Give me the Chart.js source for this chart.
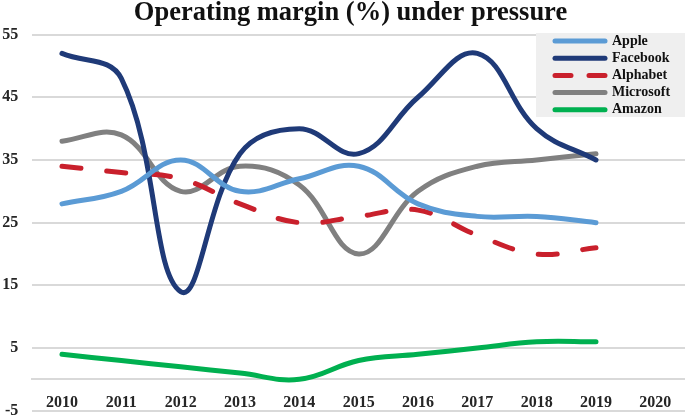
<!DOCTYPE html>
<html>
<head>
<meta charset="utf-8">
<script src="https://cdn.jsdelivr.net/npm/chart.js@4.4.0/dist/chart.umd.min.js"></script>
<style>
  html, body { margin: 0; padding: 0; background: #fff; }
  #wrap { width: 685px; height: 417px; }
</style>
</head>
<body>
<div id="wrap"><canvas id="grafico"></canvas></div>
<script>
// datos
const years = ['2010', '2011', '2012', '2013', '2014', '2015', '2016', '2017', '2018', '2019', '2020'];
const apple = [28, 30, 35, 30, 32, 34, 28, 26, 26, 25];
const facebook = [52, 48, 14, 36, 40, 36, 45, 52, 40, 35];
const alphabet = [34, 33, 32, 28, 25, 26, 27, 23, 20, 21];
const microsoft = [38, 39, 30, 34, 31, 20, 30, 34, 35, 36];
const amazon = [4, 3, 2, 1, 0, 3, 4, 5, 6, 6];
const yTicks = [-5, 5, 15, 25, 35, 45, 55];

const serif = "'Liberation Serif', 'DejaVu Serif', serif";

function serie(label, data, color, dash) {
  return {
    label: label,
    data: data,
    borderColor: color,
    backgroundColor: color,
    borderWidth: 5,
    borderCapStyle: 'round',
    borderJoinStyle: 'round',
    borderDash: dash || [],
    pointRadius: 0,
    pointHoverRadius: 0,
    tension: 0.4,
    fill: false
  };
}

// caja de leyenda gris dentro del área del gráfico + título algo a la derecha
const legendBox = {
  id: 'legendBox',
  afterLayout(chart) {
    const lg = chart.legend;
    lg.left = 551.8;
    lg.right = 685;
    lg.top = 30.8;
    lg.bottom = 417;
    if (chart.titleBlock) {
      chart.titleBlock.left = 16;
    }
  },
  afterDatasetsDraw(chart) {
    const c = chart.ctx;
    c.save();
    c.fillStyle = '#efefef';
    c.fillRect(536, 33, 149, 84);
    c.restore();
    chart.legend.draw();
  }
};

const ctx = document.getElementById('grafico').getContext('2d');
const grafico = new Chart(ctx, {
  type: 'line',
  data: {
    labels: years,
    datasets: [
      serie('Apple', apple, '#5b9bd5'),
      serie('Facebook', facebook, '#1f3a78'),
      serie('Alphabet', alphabet, '#c9202c', [19, 26]),
      serie('Microsoft', microsoft, '#808080'),
      serie('Amazon', amazon, '#00b050')
    ]
  },
  options: {
    responsive: true,
    maintainAspectRatio: false,
    animation: false,
    layout: { padding: { left: 0, right: 0, top: 0, bottom: 6.3 } },
    scales: {
      x: {
        position: { y: 0 },
        offset: true,
        grid: { display: false, drawTicks: false },
        border: { display: true, color: '#d9d9d9', width: 2 },
        ticks: {
          color: '#262626',
          font: { family: serif, size: 16, weight: 'bold' },
          padding: 13.5,
          maxRotation: 0,
          autoSkip: false
        }
      },
      y: {
        min: -5,
        max: 55,
        afterBuildTicks: (scale) => { scale.ticks = yTicks.map(v => ({ value: v })); },
        afterFit: (scale) => {
          scale.width = 32.3;
          scale.paddingTop = 0;
          scale.paddingBottom = 0;
        },
        grid: { color: '#d9d9d9', lineWidth: 2, drawTicks: false },
        border: { display: false },
        ticks: {
          color: '#262626',
          font: { family: serif, size: 16, weight: 'bold' },
          padding: 14
        }
      }
    },
    plugins: {
      title: {
        display: true,
        text: 'Operating margin (%) under pressure',
        color: '#111',
        font: { family: serif, size: 26.5, weight: 'bold', lineHeight: 1 },
        padding: { top: 0, bottom: 8.1 }
      },
      legend: {
        display: true,
        position: 'chartArea',
        align: 'start',
        labels: {
          usePointStyle: true,
          pointStyle: 'line',
          pointStyleWidth: 50,
          boxHeight: 14,
          padding: 3.2,
          color: '#111',
          font: { family: serif, size: 14, weight: 'bold' },
          generateLabels: (chart) => {
            const items = Chart.defaults.plugins.legend.labels.generateLabels(chart);
            items.forEach(it => {
              const ds = chart.data.datasets[it.datasetIndex];
              it.lineCap = 'round';
              it.lineWidth = 5;
              it.lineDash = ds.borderDash.length ? [16, 18] : [];
            });
            return items;
          }
        }
      },
      tooltip: { enabled: false }
    }
  },
  plugins: [legendBox]
});
</script>
</body>
</html>
